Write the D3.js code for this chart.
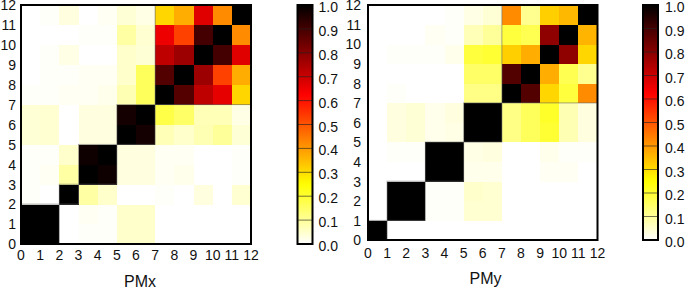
<!DOCTYPE html>
<html><head><meta charset="utf-8">
<script src="https://cdn.jsdelivr.net/npm/d3@7"></script>
<style>body{margin:0;background:#fff}svg{display:block}text{font-family:"Liberation Sans",Arial,sans-serif;fill:#111}</style>
</head><body><svg id="c" width="685" height="289"></svg>
<script>
// tick labels
const axisTicks = [0,1,2,3,4,5,6,7,8,9,10,11,12];
const cbarTicks = [0,0.1,0.2,0.3,0.4,0.5,0.6,0.7,0.8,0.9,1.0];
const titles = ["PMx","PMy"];
// matrices: row 0 = bottom, columns 0..11 left to right
const pmx = [
 [1.0,1.0,0.0,0.006,0.006,0.05,0.05,0.0,0.0,0.0,0.0,0.0],
 [1.0,1.0,0.0,0.012,0.006,0.05,0.05,0.0,0.0,0.0,0.0,0.0],
 [0.006,0.0,1.0,0.09,0.05,0.0,0.0,0.006,0.0,0.03,0.0,0.045],
 [0.006,0.012,0.09,1.0,0.98,0.03,0.03,0.012,0.02,0.0,0.0,0.006],
 [0.006,0.006,0.05,0.98,1.0,0.03,0.03,0.012,0.012,0.0,0.0,0.006],
 [0.04,0.045,0.0,0.03,0.03,1.0,0.97,0.07,0.05,0.075,0.1,0.04],
 [0.04,0.045,0.0,0.03,0.03,0.97,1.0,0.18,0.15,0.07,0.07,0.025],
 [0.006,0.006,0.012,0.012,0.02,0.075,0.16,1.0,0.875,0.72,0.66,0.31],
 [0.0,0.006,0.006,0.012,0.012,0.05,0.16,0.88,1.0,0.77,0.53,0.37],
 [0.0,0.006,0.025,0.0,0.0,0.05,0.04,0.72,0.77,1.0,0.9,0.67],
 [0.0,0.0,0.0,0.006,0.006,0.09,0.045,0.65,0.53,0.9,1.0,0.42],
 [0.0,0.006,0.03,0.0,0.012,0.04,0.025,0.31,0.37,0.67,0.42,1.0]
];
const pmy = [
 [1,0,0,0,0,0,0,0,0,0,0,0],
 [0,1,1,0.006,0.006,0.045,0.045,0,0,0,0,0],
 [0,1,1,0.006,0.006,0.05,0.045,0,0,0,0,0],
 [0,0,0,1,1,0.02,0.02,0,0,0.012,0.012,0],
 [0,0.006,0.006,1,1,0.025,0.03,0,0,0.02,0.006,0.006],
 [0,0.03,0.04,0.02,0.025,1,1,0.12,0.16,0.2,0.075,0.03],
 [0,0.03,0.04,0.02,0.03,1,1,0.12,0.16,0.21,0.075,0.03],
 [0,0.006,0,0,0,0.12,0.12,1,0.88,0.31,0.19,0.42],
 [0,0,0,0,0,0.15,0.15,0.88,1,0.37,0.17,0.11],
 [0,0.006,0.006,0.006,0.02,0.19,0.2,0.32,0.37,1,0.79,0.31],
 [0,0,0,0.012,0.006,0.07,0.1,0.19,0.17,0.79,1,0.36],
 [0,0,0,0,0.006,0.025,0.04,0.42,0.11,0.32,0.355,1]
];
const pmxBlocks = [[0,2],[2,3],[3,5],[5,7],[7,12]];
const pmyBlocks = [[0,1],[1,3],[3,5],[5,7],[7,12]];

function hot(v){
  const t = 1 - Math.max(0, Math.min(1, v));
  const cl = x => Math.max(0, Math.min(1, x));
  const r = cl(t/0.375), g = cl((t-0.375)/0.375), b = cl((t-0.75)/0.25);
  return d3.rgb(r*255, g*255, b*255).toString();
}

const svg = d3.select("#c");
const defs = svg.append("defs");

function panel(cfg){
  const {data, blocks, x0, x1, y0, y1, title, titleX, titleY, xLabY, yLabX, cbX, cbY0, cbY1, cbLabX, id} = cfg;
  const x = d3.scaleLinear().domain([0,12]).range([x0,x1]);
  const y = d3.scaleLinear().domain([0,12]).range([y1,y0]);
  const g = svg.append("g");
  const cells = [];
  data.forEach((row,r)=>row.forEach((v,c)=>cells.push({r,c,v})));
  g.selectAll("rect.cell").data(cells).join("rect")
    .attr("x", d=>x(d.c)).attr("y", d=>y(d.r+1))
    .attr("width", d=>x(d.c+1)-x(d.c)+0.4).attr("height", d=>y(d.r)-y(d.r+1)+0.4)
    .attr("fill", d=>hot(d.v)).attr("shape-rendering","crispEdges");
  // block outlines
  g.selectAll("rect.blk").data(blocks).join("rect")
    .attr("x", d=>x(d[0])).attr("y", d=>y(d[1]))
    .attr("width", d=>x(d[1])-x(d[0])).attr("height", d=>y(d[0])-y(d[1]))
    .attr("fill","none").attr("stroke","#666").attr("stroke-width",1).attr("stroke-opacity",0.6);
  // frame
  g.append("rect").attr("x",x0).attr("y",y0).attr("width",x1-x0).attr("height",y1-y0)
    .attr("fill","none").attr("stroke","#000").attr("stroke-width",2);
  // x tick labels
  g.selectAll("text.xt").data(axisTicks).join("text")
    .attr("x", d=>x(d)).attr("y", xLabY).attr("text-anchor","middle")
    .style("font-size","14px").text(d=>d);
  g.selectAll("text.yt").data(axisTicks).join("text")
    .attr("x", yLabX).attr("y", d=>y(d)+5.3).attr("text-anchor","end")
    .style("font-size","14px").text(d=>d);
  g.append("text").attr("x",titleX).attr("y",titleY).attr("text-anchor","middle")
    .style("font-size","16px").text(title);
  // colorbar
  const cs = d3.scaleLinear().domain([0,1]).range([cbY1,cbY0]);
  const grad = defs.append("linearGradient").attr("id","g"+id)
    .attr("x1",0).attr("y1",1).attr("x2",0).attr("y2",0);
  d3.range(0,1.0001,0.02).forEach(v=>grad.append("stop").attr("offset",v).attr("stop-color",hot(v)));
  g.append("rect").attr("x",cbX).attr("y",cbY0).attr("width",15).attr("height",cbY1-cbY0)
    .attr("fill","url(#g"+id+")");
  g.selectAll("line.cb").data(cbarTicks.slice(1,10)).join("line")
    .attr("x1",cbX).attr("x2",cbX+15).attr("y1",d=>cs(d)).attr("y2",d=>cs(d))
    .attr("stroke","#222").attr("stroke-width",0.8).attr("stroke-opacity",0.8);
  g.append("rect").attr("x",cbX).attr("y",cbY0).attr("width",15).attr("height",cbY1-cbY0)
    .attr("fill","none").attr("stroke","#000").attr("stroke-width",2);
  g.selectAll("text.ct").data(cbarTicks).join("text")
    .attr("x",cbLabX).attr("y",d=>cs(d)+7).style("font-size","14px")
    .text(d=>d3.format(".1f")(d));
}

panel({data:pmx, blocks:pmxBlocks, x0:21, x1:251, y0:5, y1:244, title:titles[0], titleX:140, titleY:287,
  xLabY:260, yLabX:16, cbX:297.5, cbY0:5, cbY1:244, cbLabX:318.5, id:"a"});
panel({data:pmy, blocks:pmyBlocks, x0:368, x1:597.5, y0:5, y1:240, title:titles[1], titleX:485.5, titleY:284,
  xLabY:258.3, yLabX:361, cbX:643, cbY0:5, cbY1:240, cbLabX:665, id:"b"});
</script></body></html>
